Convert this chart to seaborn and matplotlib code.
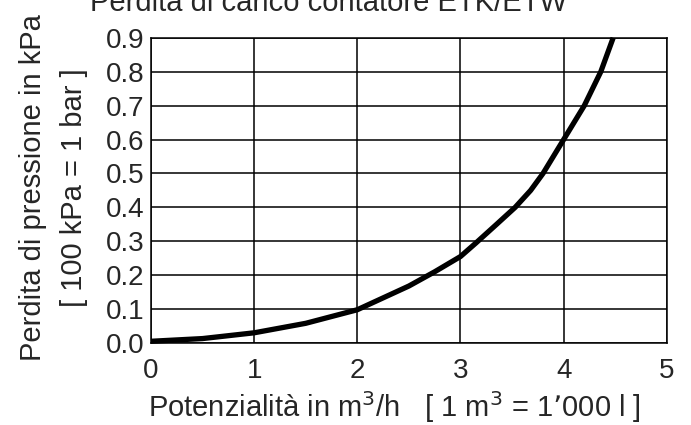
import numpy as np
import pandas as pd
import matplotlib
matplotlib.use("Agg")
import matplotlib.pyplot as plt
import seaborn as sns

# values
portata = [0.0, 0.5, 1.0, 1.5, 2.0, 2.5, 2.75, 3.0, 3.15, 3.35, 3.53, 3.68, 3.8, 4.0, 4.2, 4.36, 4.48]
perdita = [0.005, 0.013, 0.03, 0.058, 0.098, 0.168, 0.21, 0.255, 0.295, 0.35, 0.40, 0.45, 0.50, 0.60, 0.70, 0.80, 0.90]
xticks = [0, 1, 2, 3, 4, 5]
yticks = [0.0, 0.1, 0.2, 0.3, 0.4, 0.5, 0.6, 0.7, 0.8, 0.9]

df = pd.DataFrame({"Q": portata, "p": perdita})

sns.set_style("white")
plt.rcParams['font.family'] = ['Liberation Sans', 'DejaVu Sans']

fig = plt.figure(figsize=(6.91, 4.25), dpi=100)
ax = fig.add_axes([0.2185, 0.193, 0.7465, 0.718])

sns.lineplot(data=df, x="Q", y="p", color="black", linewidth=3.8, ax=ax,
             solid_capstyle="butt", solid_joinstyle="round", zorder=3, clip_on=False)

ax.set_xlim(0, 5)
ax.set_ylim(0, 0.9)
ax.set_xticks(xticks)
ax.set_yticks(yticks)
ax.set_xticklabels([str(t) for t in xticks], fontsize=20)
ax.set_yticklabels(["%.1f" % t for t in yticks], fontsize=20)
ax.tick_params(axis="x", length=0, pad=11)
ax.tick_params(axis="y", length=0, pad=5)
ax.grid(True, color="black", linewidth=1.1)
for s in ax.spines.values():
    s.set_color("black")
    s.set_linewidth(1.1)

ax.set_xlabel("Potenzialità in m$^3$/h   [ 1 m$^3$ = 1\u2019000 l ]", fontsize=21)
ax.xaxis.set_label_coords(0.473, -0.15)
ax.set_ylabel("Perdita di pressione in kPa\n[ 100 kPa = 1 bar ]", fontsize=21,
              linespacing=1.6)
ax.yaxis.set_label_coords(-0.122, 0.51)
fig.text(0.475, 1 - 11 / 425, "Perdita di carico contatore ETK/ETW", fontsize=21,
         ha="center", va="baseline")

plt.savefig("out.png", dpi=100)
